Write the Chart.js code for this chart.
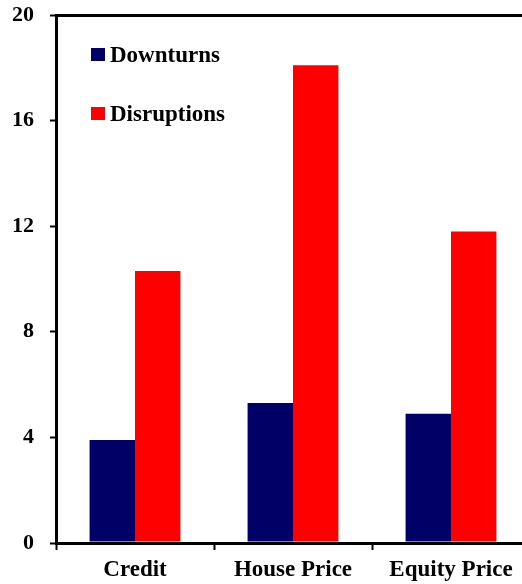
<!DOCTYPE html>
<html>
<head>
<meta charset="utf-8">
<script src="https://cdn.jsdelivr.net/npm/chart.js@4.4.1/dist/chart.umd.min.js"></script>
<style>
  html, body { margin: 0; padding: 0; background: #fff; overflow: hidden; }
  #wrap { width: 530px; height: 584px; }
</style>
</head>
<body>
<div id="wrap"><canvas id="grafico" width="530" height="584"></canvas></div>
<script>
const categorias = ['Credit', 'House Price', 'Equity Price'];
const downturns = [3.9, 5.3, 4.9];
const disruptions = [10.3, 18.1, 11.8];
const ticksY = [0, 4, 8, 12, 16, 20];

const familia = '"Liberation Serif", "Times New Roman", serif';

// legenda desenhada dentro da area do grafico (canto superior esquerdo)
const legendaInterna = {
    id: 'legendaInterna',
    afterDraw(chart) {
        const ctx = chart.ctx;
        ctx.save();
        ctx.font = 'bold 23px ' + familia;
        ctx.textBaseline = 'middle';
        chart.data.datasets.forEach((ds, i) => {
            const y = 55 + i * 59;
            ctx.fillStyle = ds.backgroundColor;
            ctx.fillRect(91, y - 7, 14, 13);
            ctx.fillStyle = '#000';
            ctx.fillText(ds.label, 110, y + 1);
        });
        ctx.restore();
    }
};

new Chart(document.getElementById('grafico'), {
    type: 'bar',
    data: {
        labels: categorias,
        datasets: [
            { label: 'Downturns', data: downturns, backgroundColor: '#000066' },
            { label: 'Disruptions', data: disruptions, backgroundColor: '#ff0000' }
        ]
    },
    options: {
        responsive: false,
        animation: false,
        datasets: { bar: { categoryPercentage: 0.575, barPercentage: 1 } },
        layout: { padding: { left: 0, top: 15, right: 0, bottom: 0 } },
        plugins: { legend: { display: false }, tooltip: { enabled: false } },
        scales: {
            x: {
                grid: { offset: true, drawOnChartArea: false, tickLength: 7, tickColor: '#000', tickWidth: 2 },
                border: { color: '#000', width: 3 },
                ticks: { color: '#000', font: { family: familia, weight: 'bold', size: 23 }, padding: 6 },
                afterFit: s => { s.height = 41; s.paddingLeft = 0; s.paddingRight = 0; }
            },
            y: {
                min: 0,
                max: 20,
                afterBuildTicks: s => { s.ticks = ticksY.map(v => ({ value: v })); },
                afterFit: s => { s.width = 56; s.paddingTop = 0; s.paddingBottom = 0; },
                grid: {
                    color: c => c.tick && c.tick.value === 20 ? '#000' : 'rgba(0,0,0,0)',
                    lineWidth: 3,
                    tickLength: 6,
                    tickColor: '#000',
                    tickWidth: 2
                },
                border: { color: '#000', width: 3 },
                ticks: { color: '#000', font: { family: familia, weight: 'bold', size: 22 }, padding: 16 }
            }
        }
    },
    plugins: [legendaInterna]
});
</script>
</body>
</html>
